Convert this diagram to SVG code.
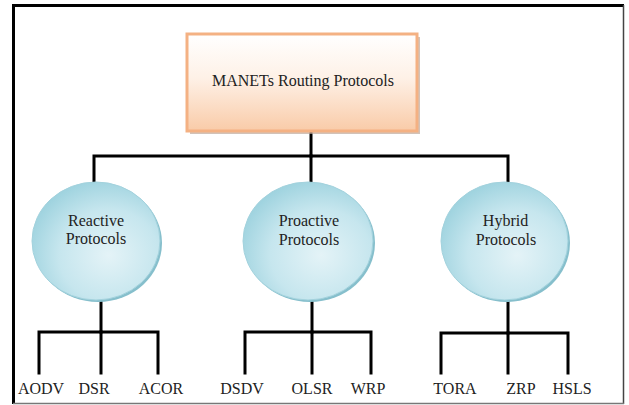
<svg xmlns="http://www.w3.org/2000/svg" width="629" height="405" viewBox="0 0 629 405">
  <style>
    .lbl { font-size: 16px; fill: #222; text-anchor: middle; }
    .conn { stroke: #000; stroke-width: 3; fill: none; stroke-linecap: square; }
  </style>
  <defs>
    <linearGradient id="peach" x1="0" y1="0" x2="0" y2="1">
      <stop offset="0" stop-color="#FFFFFF"/>
      <stop offset="0.45" stop-color="#FEF1E7"/>
      <stop offset="1" stop-color="#F9CBA8"/>
    </linearGradient>
    <radialGradient id="blue" cx="0.6" cy="0.62" r="0.65">
      <stop offset="0" stop-color="#E4F3F7"/>
      <stop offset="0.6" stop-color="#C6E6EE"/>
      <stop offset="1" stop-color="#9FD3DF"/>
    </radialGradient>
  </defs>

  <rect x="0" y="0" width="629" height="405" fill="#FFFFFF"/>

  <g id="frame">
    <line x1="12" y1="5.5" x2="624" y2="5.5" stroke="#000" stroke-width="3"/>
    <line x1="13.5" y1="4" x2="13.5" y2="404" stroke="#000" stroke-width="3"/>
    <line x1="623.5" y1="5" x2="623.5" y2="404" stroke="#444" stroke-width="1.5"/>
    <line x1="13" y1="403.5" x2="624" y2="403.5" stroke="#777" stroke-width="1.5"/>
  </g>

  <g id="connectors" class="conn">
    <line x1="311" y1="131" x2="311" y2="156"/>
    <polyline points="94,182 94,156 508,156 508,182"/>
    <line x1="311" y1="156" x2="311" y2="182"/>
    <line x1="101" y1="300" x2="101" y2="332"/>
    <polyline points="39,373 39,332 158,332 158,373"/>
    <line x1="101" y1="332" x2="101" y2="373"/>
    <line x1="312" y1="300" x2="312" y2="332"/>
    <polyline points="245,373 245,332 371,332 371,373"/>
    <line x1="312" y1="332" x2="312" y2="373"/>
    <line x1="508" y1="300" x2="508" y2="333"/>
    <polyline points="441,373 441,333 568,333 568,373"/>
    <line x1="508" y1="333" x2="508" y2="373"/>
  </g>

  <g font-family="Liberation Serif, serif">
  <g id="root">
    <rect x="190" y="37" width="230" height="97" fill="#BFA89A" opacity="0.7"/>
    <rect x="187" y="34" width="230" height="97" fill="url(#peach)" stroke="#F4B183" stroke-width="3"/>
    <text class="lbl" x="303" y="86">MANETs Routing Protocols</text>
  </g>

  <g id="reactive">
    <ellipse cx="98" cy="243" rx="64" ry="59" fill="#86BFCC"/>
    <ellipse cx="96" cy="241" rx="64" ry="59" fill="url(#blue)" stroke="#A3D2DD" stroke-width="1"/>
    <text class="lbl" x="96" y="226">Reactive</text>
    <text class="lbl" x="96" y="244">Protocols</text>
  </g>

  <g id="proactive">
    <ellipse cx="310" cy="243" rx="65" ry="59" fill="#86BFCC"/>
    <ellipse cx="308" cy="241" rx="65" ry="59" fill="url(#blue)" stroke="#A3D2DD" stroke-width="1"/>
    <text class="lbl" x="309" y="226">Proactive</text>
    <text class="lbl" x="309" y="245">Protocols</text>
  </g>

  <g id="hybrid">
    <ellipse cx="506.5" cy="243" rx="63.5" ry="59" fill="#86BFCC"/>
    <ellipse cx="504.5" cy="241" rx="63.5" ry="59" fill="url(#blue)" stroke="#A3D2DD" stroke-width="1"/>
    <text class="lbl" x="505.5" y="226">Hybrid</text>
    <text class="lbl" x="506" y="245">Protocols</text>
  </g>

  <g id="aodv"><text class="lbl" x="41" y="394">AODV</text></g>
  <g id="dsr"><text class="lbl" x="94" y="394">DSR</text></g>
  <g id="acor"><text class="lbl" x="161" y="394">ACOR</text></g>
  <g id="dsdv"><text class="lbl" x="242" y="394">DSDV</text></g>
  <g id="olsr"><text class="lbl" x="312" y="394">OLSR</text></g>
  <g id="wrp"><text class="lbl" x="368" y="394">WRP</text></g>
  <g id="tora"><text class="lbl" x="455" y="394">TORA</text></g>
  <g id="zrp"><text class="lbl" x="521" y="394">ZRP</text></g>
  <g id="hsls"><text class="lbl" x="572" y="394">HSLS</text></g>
  </g>
</svg>
